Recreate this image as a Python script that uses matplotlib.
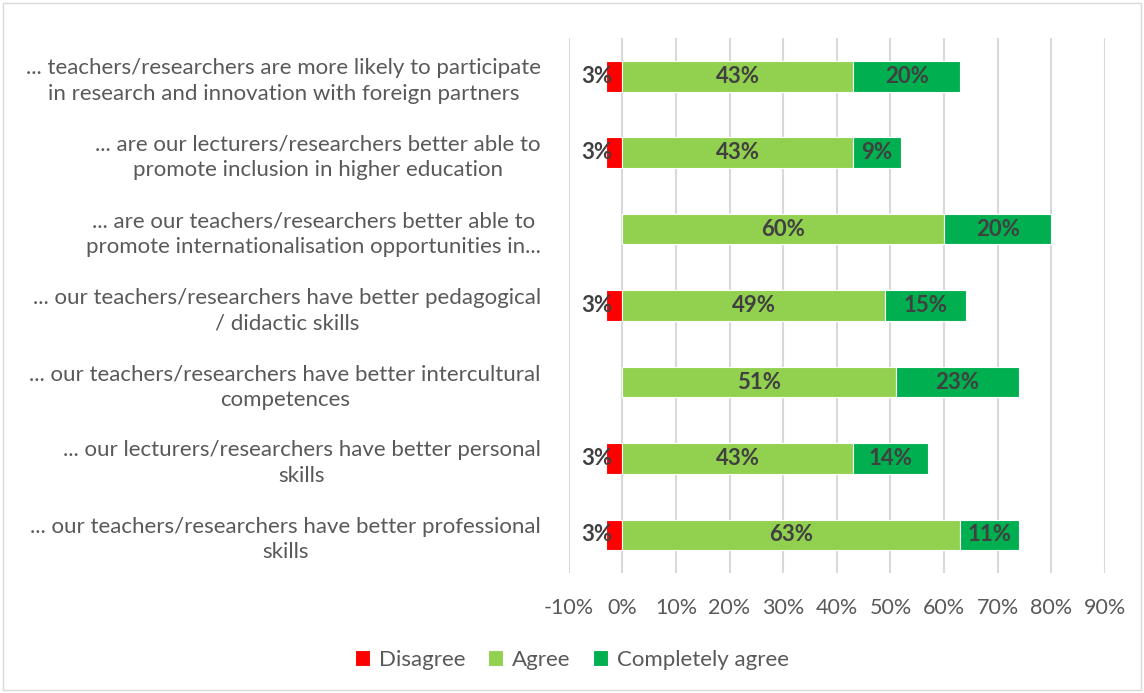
import matplotlib.pyplot as plt
from matplotlib.patches import Rectangle

plt.rcParams['font.family'] = ['Lato', 'DejaVu Sans']

categories = [
    '... teachers/researchers are more likely to participate\nin research and innovation with foreign partners',
    '... are our lecturers/researchers better able to\npromote inclusion in higher education',
    '... are our teachers/researchers better able to\npromote internationalisation opportunities in...',
    '... our teachers/researchers have better pedagogical\n/ didactic skills',
    '... our teachers/researchers have better intercultural\ncompetences',
    '... our lecturers/researchers have better personal\nskills',
    '... our teachers/researchers have better professional\nskills',
]
disagree = [3, 3, 0, 3, 0, 3, 3]
agree = [43, 43, 60, 49, 51, 43, 63]
completely = [20, 9, 20, 15, 23, 14, 11]
ticks = [-10, 0, 10, 20, 30, 40, 50, 60, 70, 80, 90]

c_dis = '#ff0000'
c_agr = '#92d050'
c_com = '#00b050'
txt = '#404040'
gray = '#595959'

fig = plt.figure(figsize=(11.44, 6.93), dpi=100)
ax = fig.add_axes([0.497, 0.173, 0.469, 0.772])
fig.patches.append(Rectangle((0.003, 0.004), 0.994, 0.992, transform=fig.transFigure,
                             fill=False, edgecolor='#d9d9d9', lw=1))

y = list(range(len(categories)))
h = 0.4
neg = [-d for d in disagree]
ax.barh(y, neg, height=h, color=c_dis, label='Disagree', edgecolor='white', lw=0.8, zorder=3)
ax.barh(y, agree, height=h, color=c_agr, label='Agree', edgecolor='white', lw=0.8, zorder=3)
ax.barh(y, completely, left=agree, height=h, color=c_com, label='Completely agree',
        edgecolor='white', lw=0.8, zorder=3)

for i in y:
    if disagree[i]:
        ax.text(-1.8, i, f'{disagree[i]}%', ha='right', va='center', fontsize=16,
                fontweight='bold', color=txt, zorder=4)
    ax.text(agree[i] / 2, i, f'{agree[i]}%', ha='center', va='center', fontsize=16,
            fontweight='bold', color=txt, zorder=4)
    ax.text(agree[i] + completely[i] / 2, i, f'{completely[i]}%', ha='center', va='center',
            fontsize=16, fontweight='bold', color=txt, zorder=4)

ax.set_xlim(-10, 90)
ax.set_ylim(6.5, -0.5)
ax.set_xticks(ticks)
ax.set_xticklabels([f'{t}%' for t in ticks])
ax.set_yticks(y)
ax.set_yticklabels(categories)
for lbl in ax.get_yticklabels():
    lbl.set_multialignment('center')
    lbl.set_linespacing(1.35)
ax.tick_params(axis='y', length=0, pad=20, labelsize=16, labelcolor=gray)
ax.tick_params(axis='x', length=0, pad=18, labelsize=15.5, labelcolor=gray)
ax.grid(axis='x', color='#d9d9d9', lw=1.5, zorder=0)
for s in ax.spines.values():
    s.set_visible(False)

ax.legend(loc='lower center', bbox_to_anchor=(0.5, 0.005), bbox_transform=fig.transFigure,
          ncol=3, frameon=False, fontsize=16, labelcolor=gray, handlelength=0.7, handleheight=0.7,
          columnspacing=1.0, handletextpad=0.4)

fig.savefig('out.png', dpi=100)
